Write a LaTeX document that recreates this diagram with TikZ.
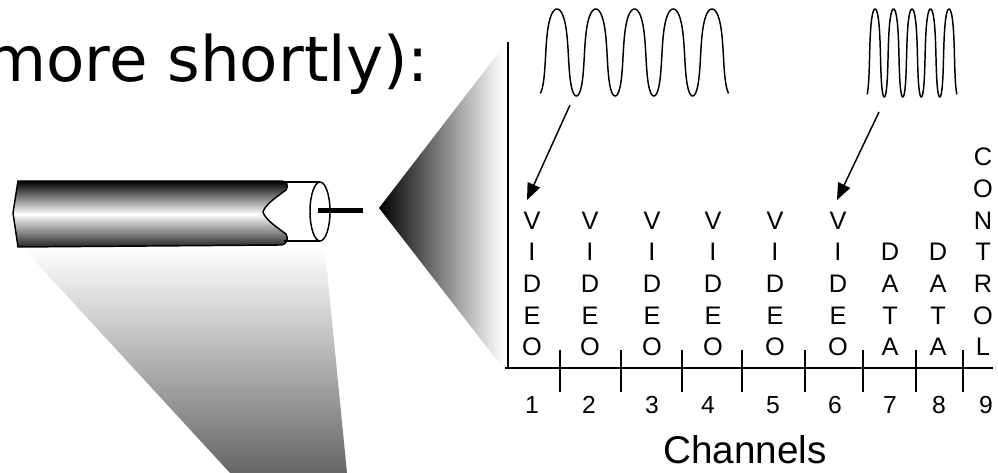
\documentclass[tikz,border=0pt]{standalone}
\usepackage{fontspec}
\setmainfont{Liberation Sans}
\newfontfamily\headfont{DejaVu Sans}
\usepackage{tikz}
\usetikzlibrary{positioning, calc}
\usetikzlibrary{arrows.meta}

\tikzset{
    chan/.style={inner sep=0pt, anchor=base, font=\fontsize{19}{19}\selectfont},
    num/.style={inner sep=0pt, anchor=base, font=\fontsize{18.5}{18.5}\selectfont},
    wave/.style={line width=1.1pt, samples=500, smooth},
    ptr/.style={line width=1.1pt, -{Triangle[length=12.5pt, width=10pt]}},
    axis/.style={line width=1.4pt},
}

\begin{document}
\begin{tikzpicture}[x=0.75pt, y=-0.75pt]
    \useasboundingbox (0,0) rectangle (998,473);
    \node[inner sep=0pt, anchor=base east, font=\headfont\fontsize{47}{47}\selectfont] (head) at (429,82) {more shortly):};

    % fans
    \shade[top color=white, bottom color=black!60] (22,247) -- (325,250) -- (347,473) -- (230,473) -- cycle;
    \shade[left color=black, right color=white] (379,208) -- (503,47) -- (503,368) -- cycle;

    % cable
    \shadedraw[line width=1.1pt, top color=black, bottom color=black!85, middle color=white]
        (18,181) -- (280,181) .. controls (287,181) and (289,185) .. (286,190)
        .. controls (275,198) and (265,205) .. (263,212)
        .. controls (265,219) and (275,226) .. (286,234)
        .. controls (289,239) and (287,245) .. (280,245)
        -- (18,247) -- (13,213) -- cycle;
    \draw[line width=1.1pt] (284,182) -- (320,182) (284,241) -- (320,241);
    \draw[line width=1.1pt, fill=white] (320,211.5) ellipse [x radius=7.5pt, y radius=22.1pt];
    \draw[line width=3.75pt] (318,211) -- (363,211);

    % axes
    \draw[axis] (508,42) -- (508,369);
    \draw[axis] (505,368) -- (993,368);
    \foreach \x in {560,621,682,742,805,863,916,963}
        \draw[axis] (\x,350) -- (\x,392);

    \foreach \x/\n/\word [count=\c] in {532/5/{V,I,D,E,O}, 590/5/{V,I,D,E,O}, 652/5/{V,I,D,E,O},
            713/5/{V,I,D,E,O}, 775/5/{V,I,D,E,O}, 838/5/{V,I,D,E,O},
            890/4/{D,A,T,A}, 938/4/{D,A,T,A}, 983/7/{C,O,N,T,R,O,L}}
        \foreach \l [count=\i] in \word
            \node[chan] (l\c-\i) at (\x,{356-(\n-\i)*31.7}) {\l};
    \foreach \x [count=\c] in {532,589,652,708,773,835,890,939,986}
        \node[num] (n\c) at (\x,413) {\c};
    \node[inner sep=0pt, anchor=base, font=\fontsize{29}{29}\selectfont] (chs) at (745,463) {Channels};

    % signals
    \draw[wave] plot[domain=-70:1690, variable=\u]
        ({547.3+38.75/360*(\u-17.2*sin(2*\u)-14.3*cos(\u))}, {52.5-43.5*sin(\u)});
    \draw[wave] plot[domain=-70:1690, variable=\u]
        ({870.4+18.5/360*(\u-17.2*sin(2*\u)-14.3*cos(\u))}, {53-44*sin(\u)});

    \coordinate (w1) at (570,105);
    \coordinate (w2) at (879,112);
    \coordinate (t1) at (527,200);
    \coordinate (t2) at (837,200);
    \draw[ptr] (w1) -- (t1);
    \draw[ptr] (w2) -- (t2);
\end{tikzpicture}
\end{document}
